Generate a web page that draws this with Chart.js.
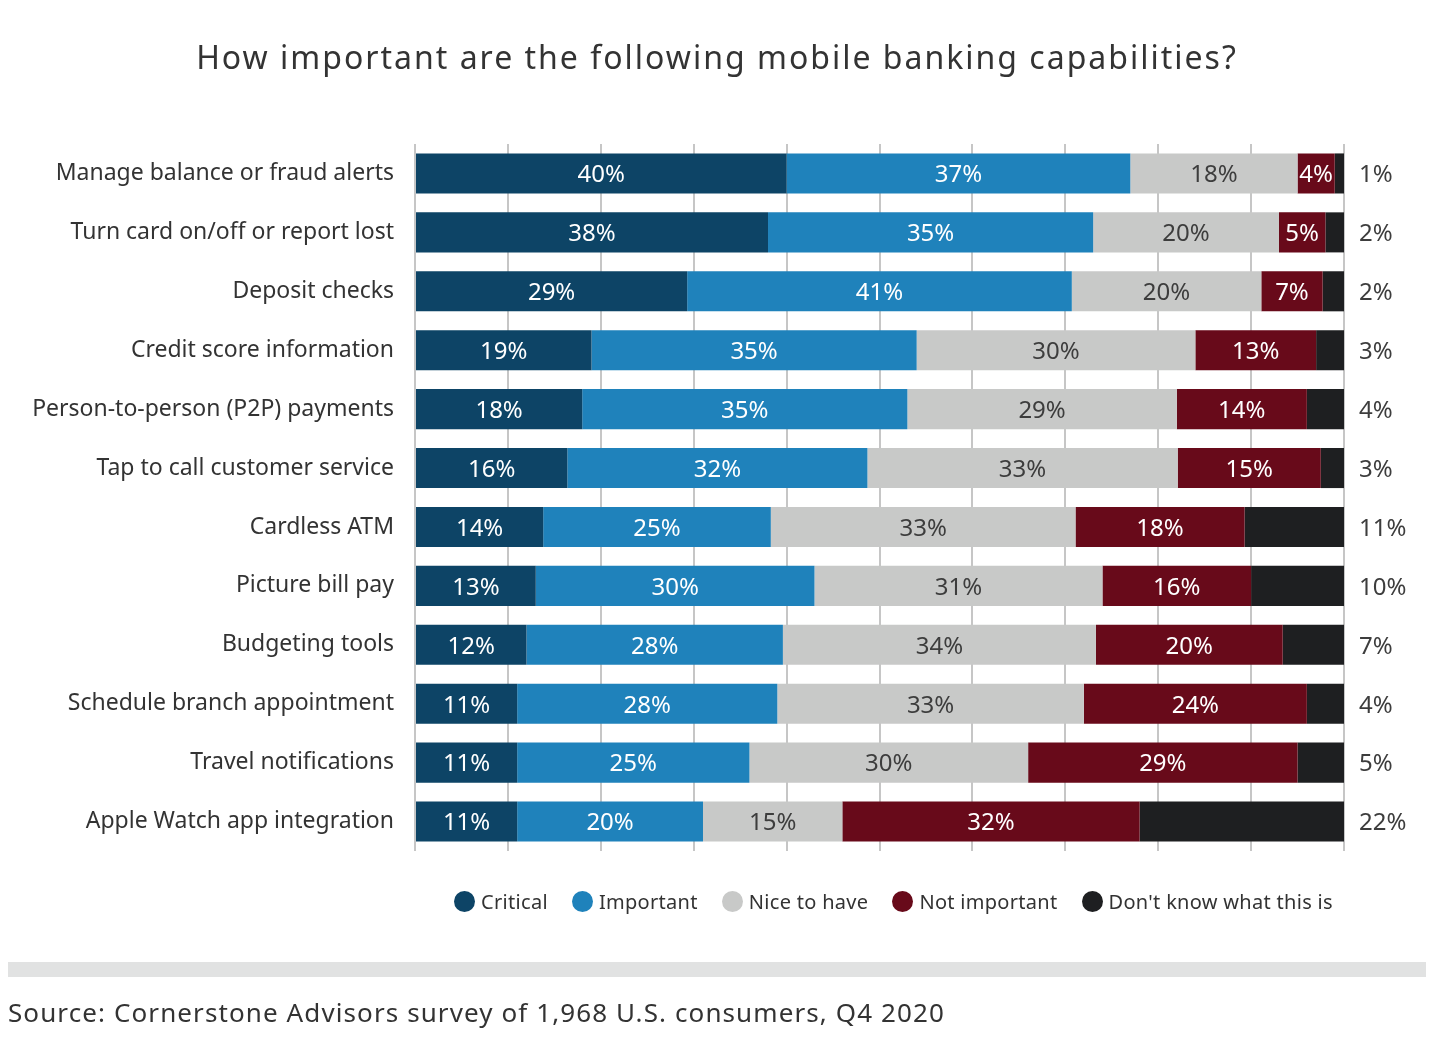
<!DOCTYPE html>
<html>
<head>
<meta charset="utf-8">
<script src="https://cdn.jsdelivr.net/npm/chart.js@4.4.1/dist/chart.umd.min.js"></script>
<style>
  body { margin: 0; background: #fff; font-family: 'Noto Sans', sans-serif; color: #333; }
  #wrap { position: relative; width: 1456px; height: 1042px; overflow: hidden; }
  #chart { position: absolute; left: 0; top: 0; }
  .title { position: absolute; top: 35px; left: 0; width: 1434px; text-align: center; font-size: 32px;
           letter-spacing: 2px; color: #333; }
  .legend { position: absolute; top: 887px; left: 429px; width: 929px; height: 28px;
            display: flex; justify-content: center; align-items: center; font-size: 20px;
            letter-spacing: 0.3px; color: #333; }
  .legend-item { display: flex; align-items: center; margin: 0 12px; }
  .legend-color { width: 21px; height: 21px; border-radius: 50%; margin-right: 6px; }
  .rule { position: absolute; left: 8px; top: 962px; width: 1418px; height: 15px; background: #e1e2e2; }
  .source { position: absolute; left: 8px; top: 994px; font-size: 26px; letter-spacing: 1.1px;
            color: #333; white-space: nowrap; }
</style>
</head>
<body>
<div id="wrap">
  <canvas id="chart" width="1456" height="1042"></canvas>
  <div class="title">How important are the following mobile banking capabilities?</div>
  <div class="legend" id="legend"></div>
  <div class="rule"></div>
  <div class="source">Source: Cornerstone Advisors survey of 1,968 U.S. consumers, Q4 2020</div>
</div>
<script>
// Категории (сверху вниз)
const CATEGORIES = [
  'Manage balance or fraud alerts',
  'Turn card on/off or report lost',
  'Deposit checks',
  'Credit score information',
  'Person-to-person (P2P) payments',
  'Tap to call customer service',
  'Cardless ATM',
  'Picture bill pay',
  'Budgeting tools',
  'Schedule branch appointment',
  'Travel notifications',
  'Apple Watch app integration',
];

// Доли в процентах (где сумма подписей не 100, взяты ширины сегментов с картинки)
const CRITICAL      = [40, 38, 29.3, 19, 18, 16.4, 13.8, 13, 12.0, 11, 11, 11];
const IMPORTANT     = [37, 35, 41.4, 35, 35, 32.3, 24.5, 30, 27.6, 28, 25, 20];
const NICE_TO_HAVE  = [18, 20, 20.4, 30, 29, 33.4, 32.8, 31, 33.7, 33, 30, 15];
const NOT_IMPORTANT = [4, 5, 6.6, 13, 14, 15.4, 18.2, 16, 20.1, 24, 29, 32];
const DONT_KNOW     = [1, 2, 2.3, 3, 4, 2.5, 10.7, 10, 6.6, 4, 5, 22];

const X_TICKS = [0, 10, 20, 30, 40, 50, 60, 70, 80, 90, 100];

const COLORS = {
  critical: '#0d4466',
  important: '#1f82bb',
  nice: '#c8c9c8',
  notImportant: '#680a1a',
  dontKnow: '#1e1f21',
};

const FONT = "'Noto Sans', sans-serif";

const SERIES = [
  { label: 'Critical', data: CRITICAL, color: COLORS.critical, text: '#fff' },
  { label: 'Important', data: IMPORTANT, color: COLORS.important, text: '#fff' },
  { label: 'Nice to have', data: NICE_TO_HAVE, color: COLORS.nice, text: '#3d3d3d' },
  { label: 'Not important', data: NOT_IMPORTANT, color: COLORS.notImportant, text: '#fff' },
  { label: "Don't know what this is", data: DONT_KNOW, color: COLORS.dontKnow, text: '#3d3d3d', outside: true },
];

// Подписи на сегментах; последняя серия — справа от графика
const barLabels = {
  id: 'barLabels',
  afterDatasetsDraw(chart) {
    const { ctx, chartArea } = chart;
    ctx.save();
    ctx.font = `24px ${FONT}`;
    ctx.textBaseline = 'middle';
    SERIES.forEach((s, i) => {
      const meta = chart.getDatasetMeta(i);
      meta.data.forEach((bar, j) => {
        const txt = Math.round(s.data[j]) + '%';
        ctx.fillStyle = s.text;
        if (s.outside) {
          ctx.textAlign = 'left';
          ctx.fillText(txt, chartArea.right + 15, bar.y + 2);
        } else {
          ctx.textAlign = 'center';
          ctx.fillText(txt, (bar.x + bar.base) / 2, bar.y + 2);
        }
      });
    });
    ctx.restore();
  }
};

const ctx = document.getElementById('chart').getContext('2d');
new Chart(ctx, {
  type: 'bar',
  data: {
    labels: CATEGORIES,
    datasets: SERIES.map(s => ({
      label: s.label,
      data: s.data,
      backgroundColor: s.color,
      borderWidth: 0,
      barPercentage: 0.68,
      categoryPercentage: 1,
    })),
  },
  options: {
    indexAxis: 'y',
    responsive: false,
    animation: false,
    layout: { padding: { top: 144, right: 112, bottom: 191, left: 0 } },
    plugins: {
      legend: { display: false },
      tooltip: { enabled: false },
    },
    scales: {
      x: {
        stacked: true,
        min: 0,
        max: 100,
        afterBuildTicks(scale) { scale.ticks = X_TICKS.map(v => ({ value: v })); },
        afterFit(scale) { scale.height = 0; },
        ticks: { display: false },
        grid: { color: '#c6c6c6', lineWidth: 2, drawTicks: false },
        border: { display: false },
      },
      y: {
        stacked: true,
        afterFit(scale) { scale.width = 415; },
        grid: { display: false },
        border: { display: false },
        ticks: { color: '#333', padding: 13, font: { family: FONT, size: 23 } },
      },
    },
  },
  plugins: [barLabels],
});

// Легенда
document.getElementById('legend').innerHTML = SERIES.map(s =>
  `<div class="legend-item"><span class="legend-color" style="background:${s.color}"></span><span>${s.label}</span></div>`
).join('');
</script>
</body>
</html>
